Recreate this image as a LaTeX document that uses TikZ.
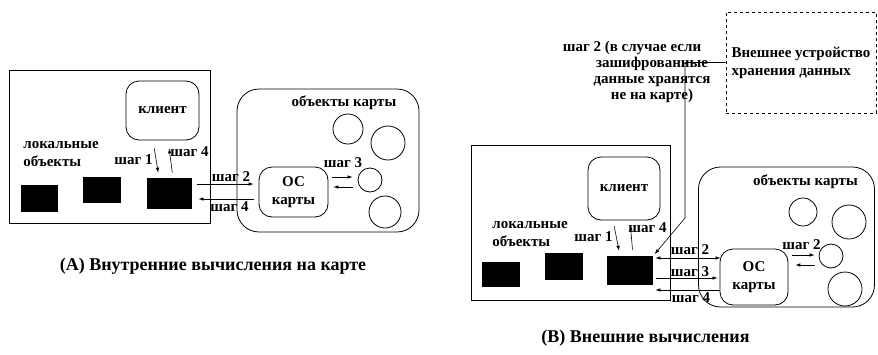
\documentclass[tikz,border=0pt]{standalone}
\usepackage{fontspec}
\setmainfont{Liberation Serif}
\usetikzlibrary{arrows.meta,positioning}

\begin{document}
\begin{tikzpicture}[x=1pt, y=-1pt, font=\bfseries\fontsize{15}{18}\selectfont, line width=0.8pt,
  hostbox/.style={rectangle, draw, minimum width=#1, inner sep=0pt},
  cardbox/.style={rectangle, draw, rounded corners=22pt, inner sep=0pt},
  client/.style={rectangle, draw, rounded corners=13pt, inner sep=0pt},
  chip/.style={rectangle, fill=black, inner sep=0pt},
  obj/.style={circle, draw, inner sep=0pt},
  lbl/.style={inner sep=0pt},
  caption/.style={inner sep=0pt, font=\bfseries\fontsize{18}{20}\selectfont},
  arr/.style={-{Latex[length=5pt,width=3.5pt]}, line width=0.6pt},
  darr/.style={{Latex[length=5pt,width=3.5pt]}-{Latex[length=5pt,width=3.5pt]}, line width=0.6pt}]
\useasboundingbox (0,0) rectangle (878,354);
% (A) computations inside the card
\node[hostbox=201pt, minimum height=153pt] (hostA) at (109.5,146.5) {};
\node[client, minimum width=73pt, minimum height=59pt] (clientA) at (162.5,110.5) {клиент};
\node[lbl, anchor=west, align=left] (locA) at (23,154) {локальные\\объекты};
\node[chip, minimum width=37pt, minimum height=27pt] (chipA1) at (39.5,198.5) {};
\node[chip, minimum width=38pt, minimum height=26pt] (chipA2) at (102,190) {};
\node[chip, minimum width=45pt, minimum height=31pt] (chipA3) at (169.5,193.5) {};
\node[cardbox, minimum width=182pt, minimum height=143pt] (cardA) at (328,160.5) {};
\node[lbl] (cardlblA) at (344,103) {объекты карты};
\node[client, minimum width=69pt, minimum height=50pt, align=center] (osA) at (293.5,192) {ОС\\карты};
\node[obj, minimum size=30pt] (objA1) at (348,129) {};
\node[obj, minimum size=34pt] (objA2) at (388,143) {};
\node[obj, minimum size=24pt] (objA3) at (370,180) {};
\node[obj, minimum size=32pt] (objA4) at (385,212) {};
\draw[arr, shorten <=8pt, shorten >=5pt] ([xshift=-9.5pt]clientA.south) -- ([xshift=-10.5pt]chipA3.north);
\draw[arr, shorten <=5pt, shorten >=8pt] ([xshift=3.5pt]chipA3.north) -- ([xshift=5.5pt]clientA.south);
\node[lbl] (s1A) at (133.5,160) {шаг 1};
\node[lbl] (s4A) at (189.5,152) {шаг 4};
\draw[arr, shorten <=5pt, shorten >=5pt] ([yshift=9.5pt]chipA3.east) -- ([yshift=9.5pt]chipA3.east -| osA.west);
\draw[arr, shorten <=5pt, shorten >=6pt] ([yshift=-5.5pt]chipA3.east -| osA.west) -- ([yshift=-5.5pt]chipA3.east);
\node[lbl] (s2A) at (231,177) {шаг 2};
\node[lbl] (s4bA) at (229.5,207) {шаг 4};
\draw[arr, shorten <=4pt, shorten >=5pt] ([yshift=15pt]osA.east) -- ([yshift=15pt]osA.east -| objA3.west);
\draw[arr, shorten <=5pt, shorten >=5pt] ([yshift=5pt]osA.east -| objA3.west) -- ([yshift=5pt]osA.east);
\node[lbl] (s3A) at (343,163) {шаг 3};
\node[caption] (capA) at (213,266) {(A) Внутренние вычисления на карте};
% (B) external computations
\node[rectangle, draw, dashed, line width=0.6pt, minimum width=150pt, minimum height=101pt, align=left, inner sep=1pt] (ext) at (801,62.5) {Внешнее устройство\\хранения данных};
\node[lbl, align=center, font=\bfseries\fontsize{15}{16}\selectfont] (cond) at (652,71.5) {шаг 2 (в случае если\hspace*{40pt}\\зашифрованные\\данные хранятся\\не на карте)};
\node[hostbox=199pt, minimum height=155pt] (hostB) at (570.5,222.5) {};
\node[client, minimum width=72pt, minimum height=63pt] (clientB) at (624,188.5) {клиент};
\node[lbl, anchor=west, align=left] (locB) at (492,234) {локальные\\объекты};
\node[chip, minimum width=38pt, minimum height=25pt] (chipB1) at (501,274.5) {};
\node[chip, minimum width=38pt, minimum height=27pt] (chipB2) at (564,266.5) {};
\node[chip, minimum width=46pt, minimum height=29pt] (chipB3) at (630,270.5) {};
\node[cardbox, minimum width=176pt, minimum height=140pt] (cardB) at (786.5,237) {};
\node[lbl] (cardlblB) at (805.5,182) {объекты карты};
\node[client, minimum width=68pt, minimum height=56pt, align=center] (osB) at (754,277) {ОС\\карты};
\node[obj, minimum size=28pt] (objB1) at (803,212) {};
\node[obj, minimum size=34pt] (objB2) at (849,222) {};
\node[obj, minimum size=24pt] (objB3) at (831,256) {};
\node[obj, minimum size=34pt] (objB4) at (845,289) {};
\coordinate (bend) at (685,218);
\draw[arr, line width=0.6pt, shorten >=2pt] (ext.west) -| (bend) -- (chipB3.north east);
\draw[arr, shorten <=6pt, shorten >=5pt] ([xshift=-11pt]clientB.south) -- ([xshift=-10pt]chipB3.north);
\draw[arr, shorten <=6pt, shorten >=5pt] ([xshift=3pt]chipB3.north) -- ([xshift=6pt]clientB.south);
\node[lbl] (s1B) at (593.5,237) {шаг 1};
\node[lbl] (s4B) at (647.5,228) {шаг 4};
\draw[darr, shorten <=2pt, shorten >=-1pt] ([yshift=12.5pt]chipB3.east) -- ([yshift=12.5pt]chipB3.east -| osB.west);
\draw[arr, shorten <=3pt, shorten >=2pt] ([yshift=-7.5pt]chipB3.east) -- ([yshift=-7.5pt]chipB3.east -| osB.west);
\draw[arr, shorten <=0pt, shorten >=2pt] ([yshift=-19.5pt]chipB3.east -| osB.west) -- ([yshift=-19.5pt]chipB3.east);
\node[lbl] (s2B) at (690,250) {шаг 2};
\node[lbl] (s3B) at (690,272) {шаг 3};
\node[lbl] (s4bB) at (691,298) {шаг 4};
\draw[arr, shorten <=4pt, shorten >=4pt] ([yshift=22pt]osB.east) -- ([yshift=22pt]osB.east -| objB3.west);
\draw[arr, shorten <=4pt, shorten >=7pt] ([yshift=12pt]osB.east -| objB3.west) -- ([yshift=12pt]osB.east);
\node[lbl] (s2cB) at (801.5,245) {шаг 2};
\node[caption] (capB) at (645.5,338) {(B) Внешние вычисления};
\end{tikzpicture}
\end{document}
